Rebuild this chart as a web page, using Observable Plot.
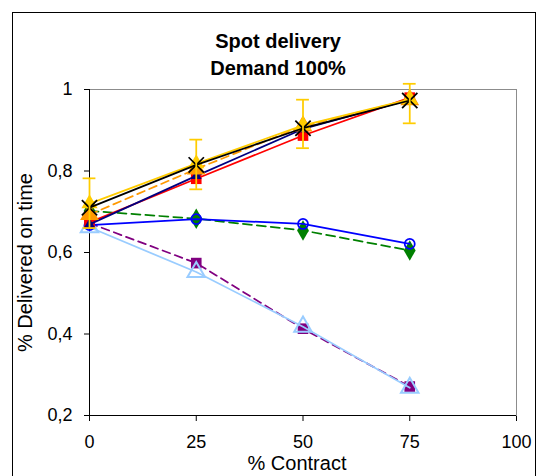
<!DOCTYPE html>
<html>
<head>
<meta charset="utf-8">
<script src="https://cdn.jsdelivr.net/npm/d3@7"></script>
<script src="https://cdn.jsdelivr.net/npm/@observablehq/plot@0.6"></script>
<style>
  html, body { margin: 0; padding: 0; background: #fff; }
  #wrap { position: relative; width: 539px; height: 476px; overflow: hidden; background: #fff; }
  #border { position: absolute; left: 12px; top: 12px; width: 524px; height: 480px; border: 1px solid #000; box-sizing: border-box; pointer-events: none; }
  #chart { position: absolute; left: 0; top: 0; }
</style>
</head>
<body>
<div id="wrap"><div id="chart"></div><div id="border"></div></div>
<script>
// ---- data ----
const contract = [0, 25, 50, 75];
const yellowSeries    = [0.720, 0.818, 0.912, 0.976];
const orangeSeries    = [0.693, 0.805, 0.910, 0.975];
const blackSeries     = [0.710, 0.815, 0.905, 0.973];
const navySeries      = [0.669, 0.788, 0.903, 0.975];
const redSeries       = [0.674, 0.781, 0.887, 0.980];
const greenSeries     = [0.702, 0.683, 0.654, 0.605];
const blueSeries      = [0.667, 0.682, 0.670, 0.621];
const purpleSeries    = [0.672, 0.574, 0.413, 0.271];
const lightBlueSeries = [0.662, 0.552, 0.418, 0.268];
const errLow  = [0.660, 0.755, 0.856, 0.917];
const errHigh = [0.782, 0.877, 0.975, 1.014];

const xTicks = [0, 25, 50, 75, 100];
const yTicks = [0.2, 0.4, 0.6, 0.8, 1];
const yTickLabels = ["0,2", "0,4", "0,6", "0,8", "1"];
const titleLines = ["Spot delivery", "Demand 100%"];
const xLabel = "% Contract";
const yLabel = "% Delivered on time";

const rows = vals => contract.map((x, i) => ({x, y: vals[i]}));
const errRows = contract.map((x, i) => ({x, lo: errLow[i], hi: errHigh[i]}));

function series(vals, color, dash, symbol, r, filled, sw) {
  const d = rows(vals);
  return [
    Plot.line(d, {x: "x", y: "y", stroke: color, strokeWidth: 1.75, strokeDasharray: dash}),
    Plot.dot(d, filled
      ? {x: "x", y: "y", symbol, r, fill: color, stroke: "none"}
      : {x: "x", y: "y", symbol, r, fill: "none", stroke: color, strokeWidth: sw || 1.75})
  ];
}

const chart = Plot.plot({
  width: 539,
  height: 476,
  marginLeft: 89,
  marginRight: 23,
  marginTop: 89,
  marginBottom: 61,
  style: {fontFamily: "'Liberation Sans', Arial, sans-serif", fontSize: "18px", color: "#000", background: "transparent"},
  x: {domain: [0, 100], ticks: xTicks, tickSize: 6, tickPadding: 14, label: null},
  y: {domain: [0.2, 1], ticks: yTicks, tickSize: 5, tickPadding: 12, label: null,
      tickFormat: d => yTickLabels[yTicks.findIndex(t => Math.abs(t - d) < 1e-9)]},
  marks: [
    Plot.frame({stroke: "#8c8c8c", strokeWidth: 1}),
    Plot.ruleX([0], {stroke: "#000", strokeWidth: 1}),
    Plot.ruleY([0.2], {stroke: "#000", strokeWidth: 1}),
    ...series(purpleSeries, "#800080", "8,5", "square", 6, true),
    ...series(lightBlueSeries, "#99ccff", null, "triangle", 6.5, false, 2),
    ...series(greenSeries, "#008000", "9,5", "diamond", 6.2, true),
    ...series(blueSeries, "#0000ff", null, "circle", 5, false, 1.75),
    ...series(redSeries, "#ff0000", null, "square", 6, true),
    ...series(navySeries, "#000080", null, "triangle", 4, true),
    ...series(orangeSeries, "#ff9900", "8,5", "triangle", 7, true),
    ...series(yellowSeries, "#ffcc00", null, "triangle", 6, true),
    ...series(blackSeries, "#000000", null, "times", 7, false, 1.75),
    Plot.ruleX(errRows, {x: "x", y1: "lo", y2: "hi", stroke: "#ffcc00", strokeWidth: 1.75}),
    Plot.ruleY(errRows, {y: "lo", x1: d => d.x - 1.5, x2: d => d.x + 1.5, stroke: "#ffcc00", strokeWidth: 1.75}),
    Plot.ruleY(errRows, {y: "hi", x1: d => d.x - 1.5, x2: d => d.x + 1.5, stroke: "#ffcc00", strokeWidth: 1.75}),
    Plot.text([titleLines[0]], {frameAnchor: "top", dx: -25, dy: -48, fontSize: 20, fontWeight: "bold", lineAnchor: "middle", textAnchor: "middle"}),
    Plot.text([titleLines[1]], {frameAnchor: "top", dx: -25, dy: -21, fontSize: 20, fontWeight: "bold", lineAnchor: "middle", textAnchor: "middle"}),
    Plot.text([xLabel], {frameAnchor: "bottom", dx: -6, dy: 48, fontSize: 20, lineAnchor: "middle", textAnchor: "middle"}),
    Plot.text([yLabel], {frameAnchor: "left", dx: -64, dy: 10, fontSize: 20, rotate: -90, lineAnchor: "middle", textAnchor: "middle"})
  ]
});
document.getElementById("chart").appendChild(chart);
</script>
</body>
</html>
